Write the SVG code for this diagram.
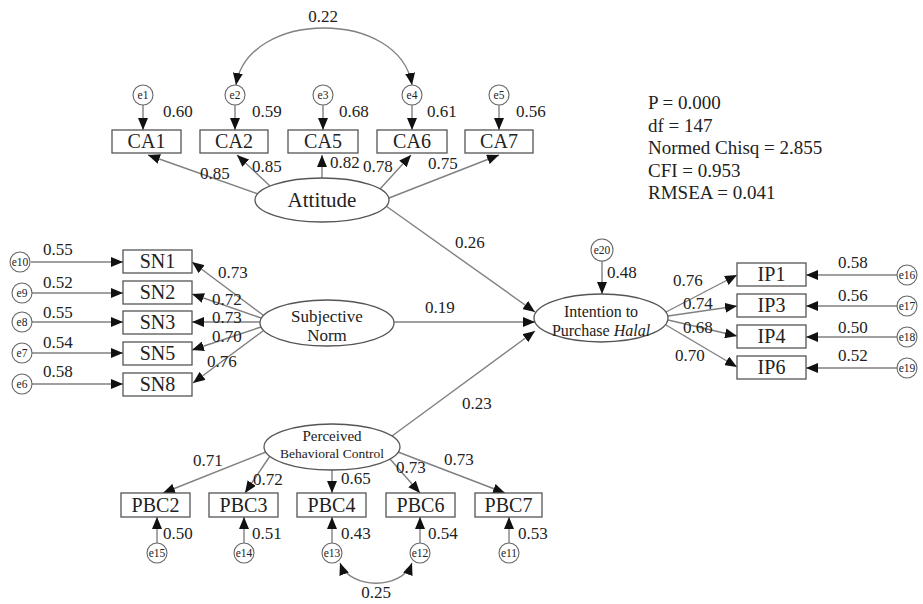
<svg xmlns="http://www.w3.org/2000/svg" width="923" height="604" viewBox="0 0 923 604">
<style>
text{font-family:"Liberation Serif","Times New Roman",serif;fill:#222}
.n{font-size:17px}
.bx{fill:#fff;stroke:#555;stroke-width:1.3}
.bt{font-size:20px;text-anchor:middle}
.ec{fill:#fff;stroke:#666;stroke-width:1.1}
.et{font-size:11.5px;text-anchor:middle}
.lv{fill:#fff;stroke:#555;stroke-width:1.3}
.c{fill:none;stroke:#808080;stroke-width:1.4;marker-end:url(#ah)}
.d{fill:none;stroke:#808080;stroke-width:1.4;marker-end:url(#ah);marker-start:url(#ah)}
.st{font-size:19px}
</style>
<defs>
<marker id="ah" viewBox="0 0 12 10" refX="12" refY="5" markerWidth="12" markerHeight="10" markerUnits="userSpaceOnUse" orient="auto-start-reverse">
<path d="M0,0 L12,5 L0,10 z" fill="#111"/>
</marker>
</defs>
<rect width="923" height="604" fill="#fff"/>

<g id="connectors">
<path class="d" d="M236,85 C248,9 400,9 412,85"/>
<path class="d" d="M340,563 C350,590 402,590 412,563"/>
<line class="c" x1="143" y1="105" x2="143" y2="130"/>
<line class="c" x1="235" y1="105" x2="235" y2="130"/>
<line class="c" x1="323" y1="105" x2="323" y2="130"/>
<line class="c" x1="412" y1="105" x2="412" y2="130"/>
<line class="c" x1="499" y1="105" x2="499" y2="130"/>
<line class="c" x1="258" y1="194" x2="148" y2="155"/>
<line class="c" x1="270" y1="186" x2="237" y2="155"/>
<line class="c" x1="322" y1="178" x2="322" y2="155"/>
<line class="c" x1="380" y1="189" x2="411" y2="155"/>
<line class="c" x1="389" y1="198" x2="499" y2="155"/>
<line class="c" x1="31" y1="262" x2="123" y2="262"/>
<line class="c" x1="32" y1="293" x2="123" y2="293"/>
<line class="c" x1="32" y1="322" x2="123" y2="322"/>
<line class="c" x1="32" y1="353" x2="123" y2="353"/>
<line class="c" x1="32" y1="384" x2="123" y2="384"/>
<line class="c" x1="263" y1="315" x2="192" y2="262"/>
<line class="c" x1="261" y1="318" x2="192" y2="294"/>
<line class="c" x1="260" y1="322" x2="192" y2="322"/>
<line class="c" x1="261" y1="327" x2="192" y2="350"/>
<line class="c" x1="263" y1="331" x2="193" y2="383"/>
<line class="c" x1="386" y1="206" x2="535" y2="312"/>
<line class="c" x1="394" y1="322" x2="535" y2="322"/>
<line class="c" x1="392" y1="436" x2="535" y2="331"/>
<line class="c" x1="602" y1="261" x2="602" y2="294"/>
<line class="c" x1="666" y1="312" x2="737" y2="275"/>
<line class="c" x1="668" y1="316" x2="737" y2="306"/>
<line class="c" x1="668" y1="320" x2="737" y2="336"/>
<line class="c" x1="666" y1="325" x2="737" y2="367"/>
<line class="c" x1="897" y1="275" x2="806" y2="275"/>
<line class="c" x1="897" y1="306" x2="806" y2="306"/>
<line class="c" x1="897" y1="337" x2="806" y2="337"/>
<line class="c" x1="897" y1="368" x2="806" y2="368"/>
<line class="c" x1="266" y1="452" x2="163" y2="493"/>
<line class="c" x1="270" y1="456" x2="245" y2="493"/>
<line class="c" x1="332" y1="470" x2="332" y2="493"/>
<line class="c" x1="390" y1="459" x2="420" y2="493"/>
<line class="c" x1="398" y1="452" x2="505" y2="493"/>
<line class="c" x1="157" y1="543" x2="157" y2="517"/>
<line class="c" x1="244" y1="543" x2="244" y2="517"/>
<line class="c" x1="332" y1="543" x2="332" y2="517"/>
<line class="c" x1="420" y1="543" x2="420" y2="517"/>
<line class="c" x1="509" y1="543" x2="509" y2="517"/>
</g>

<g id="labels" class="n">
<text x="323" y="22" text-anchor="middle">0.22</text>
<text x="163" y="117">0.60</text>
<text x="252" y="117">0.59</text>
<text x="339" y="117">0.68</text>
<text x="427" y="117">0.61</text>
<text x="516" y="117">0.56</text>
<text x="200" y="179">0.85</text>
<text x="252" y="172">0.85</text>
<text x="330" y="168">0.82</text>
<text x="363" y="172">0.78</text>
<text x="428" y="169">0.75</text>
<text x="43" y="255">0.55</text>
<text x="43" y="288">0.52</text>
<text x="43" y="318">0.55</text>
<text x="43" y="348">0.54</text>
<text x="43" y="377">0.58</text>
<text x="218" y="278">0.73</text>
<text x="212" y="305">0.72</text>
<text x="212" y="323">0.73</text>
<text x="212" y="342">0.70</text>
<text x="207" y="367">0.76</text>
<text x="455" y="248">0.26</text>
<text x="425" y="313">0.19</text>
<text x="462" y="409">0.23</text>
<text x="607" y="278">0.48</text>
<text x="673" y="286">0.76</text>
<text x="683" y="309">0.74</text>
<text x="683" y="333">0.68</text>
<text x="675" y="361">0.70</text>
<text x="838" y="268">0.58</text>
<text x="838" y="301">0.56</text>
<text x="838" y="333">0.50</text>
<text x="838" y="361">0.52</text>
<text x="193" y="466">0.71</text>
<text x="253" y="485">0.72</text>
<text x="341" y="484">0.65</text>
<text x="396" y="473">0.73</text>
<text x="444" y="465">0.73</text>
<text x="163" y="539">0.50</text>
<text x="252" y="539">0.51</text>
<text x="341" y="539">0.43</text>
<text x="428" y="539">0.54</text>
<text x="518" y="539">0.53</text>
<text x="376" y="598" text-anchor="middle">0.25</text>
</g>

<g id="Attitude"><ellipse class="lv" cx="322" cy="200" rx="67" ry="22"/><text x="322" y="207" font-size="21" text-anchor="middle">Attitude</text></g>
<g id="SubjectiveNorm"><ellipse class="lv" cx="327" cy="323" rx="67" ry="23"/><text x="327" y="322" font-size="17" text-anchor="middle">Subjective</text><text x="327" y="341" font-size="17" text-anchor="middle">Norm</text></g>
<g id="Intention"><ellipse class="lv" cx="601" cy="318" rx="67" ry="24"/><text x="601" y="317" font-size="16" text-anchor="middle">Intention to</text><text x="601" y="336" font-size="16" text-anchor="middle">Purchase <tspan font-style="italic">Halal</tspan></text></g>
<g id="PBC"><ellipse class="lv" cx="332" cy="447" rx="68" ry="23"/><text x="332" y="441" font-size="15" text-anchor="middle">Perceived</text><text x="332" y="458" font-size="13.5" text-anchor="middle">Behavioral Control</text></g>

<g id="CA1"><rect class="bx" x="112" y="130" width="69" height="23"/><text class="bt" x="146.5" y="148">CA1</text></g>
<g id="CA2"><rect class="bx" x="200" y="130" width="68" height="23"/><text class="bt" x="234" y="148">CA2</text></g>
<g id="CA5"><rect class="bx" x="288" y="130" width="70" height="23"/><text class="bt" x="323" y="148">CA5</text></g>
<g id="CA6"><rect class="bx" x="377" y="130" width="70" height="23"/><text class="bt" x="412" y="148">CA6</text></g>
<g id="CA7"><rect class="bx" x="465" y="130" width="68" height="23"/><text class="bt" x="499" y="148">CA7</text></g>

<g id="SN1"><rect class="bx" x="123" y="250" width="69" height="23"/><text class="bt" x="157.5" y="268">SN1</text></g>
<g id="SN2"><rect class="bx" x="123" y="281" width="69" height="23"/><text class="bt" x="157.5" y="299">SN2</text></g>
<g id="SN3"><rect class="bx" x="123" y="311" width="69" height="23"/><text class="bt" x="157.5" y="329">SN3</text></g>
<g id="SN5"><rect class="bx" x="123" y="342" width="69" height="23"/><text class="bt" x="157.5" y="360">SN5</text></g>
<g id="SN8"><rect class="bx" x="123" y="373" width="69" height="23"/><text class="bt" x="157.5" y="391">SN8</text></g>

<g id="IP1"><rect class="bx" x="737" y="263" width="69" height="23"/><text class="bt" x="771.5" y="281">IP1</text></g>
<g id="IP3"><rect class="bx" x="737" y="294" width="69" height="23"/><text class="bt" x="771.5" y="312">IP3</text></g>
<g id="IP4"><rect class="bx" x="737" y="325" width="69" height="23"/><text class="bt" x="771.5" y="343">IP4</text></g>
<g id="IP6"><rect class="bx" x="737" y="356" width="69" height="23"/><text class="bt" x="771.5" y="374">IP6</text></g>

<g id="PBC2"><rect class="bx" x="121" y="493" width="69" height="24"/><text class="bt" x="155.5" y="512">PBC2</text></g>
<g id="PBC3"><rect class="bx" x="209" y="493" width="69" height="24"/><text class="bt" x="243.5" y="512">PBC3</text></g>
<g id="PBC4"><rect class="bx" x="297" y="493" width="69" height="24"/><text class="bt" x="331.5" y="512">PBC4</text></g>
<g id="PBC6"><rect class="bx" x="386" y="493" width="69" height="24"/><text class="bt" x="420.5" y="512">PBC6</text></g>
<g id="PBC7"><rect class="bx" x="475" y="493" width="67" height="24"/><text class="bt" x="508.5" y="512">PBC7</text></g>

<g id="e1"><circle class="ec" cx="143" cy="95" r="10"/><text class="et" x="143" y="99">e1</text></g>
<g id="e2"><circle class="ec" cx="235" cy="95" r="10"/><text class="et" x="235" y="99">e2</text></g>
<g id="e3"><circle class="ec" cx="323" cy="95" r="10"/><text class="et" x="323" y="99">e3</text></g>
<g id="e4"><circle class="ec" cx="412" cy="95" r="10"/><text class="et" x="412" y="99">e4</text></g>
<g id="e5"><circle class="ec" cx="499" cy="95" r="10"/><text class="et" x="499" y="99">e5</text></g>
<g id="e10"><circle class="ec" cx="20" cy="262" r="10"/><text class="et" x="20" y="266">e10</text></g>
<g id="e9"><circle class="ec" cx="22" cy="293" r="10"/><text class="et" x="22" y="297">e9</text></g>
<g id="e8"><circle class="ec" cx="22" cy="322" r="10"/><text class="et" x="22" y="326">e8</text></g>
<g id="e7"><circle class="ec" cx="22" cy="353" r="10"/><text class="et" x="22" y="357">e7</text></g>
<g id="e6"><circle class="ec" cx="22" cy="384" r="10"/><text class="et" x="22" y="388">e6</text></g>
<g id="e20"><circle class="ec" cx="602" cy="250" r="11"/><text class="et" x="602" y="254">e20</text></g>
<g id="e16"><circle class="ec" cx="907" cy="275" r="10"/><text class="et" x="907" y="279">e16</text></g>
<g id="e17"><circle class="ec" cx="907" cy="306" r="10"/><text class="et" x="907" y="310">e17</text></g>
<g id="e18"><circle class="ec" cx="907" cy="337" r="10"/><text class="et" x="907" y="341">e18</text></g>
<g id="e19"><circle class="ec" cx="907" cy="368" r="10"/><text class="et" x="907" y="372">e19</text></g>
<g id="e15"><circle class="ec" cx="157" cy="553" r="10"/><text class="et" x="157" y="557">e15</text></g>
<g id="e14"><circle class="ec" cx="244" cy="553" r="10"/><text class="et" x="244" y="557">e14</text></g>
<g id="e13"><circle class="ec" cx="332" cy="553" r="10"/><text class="et" x="332" y="557">e13</text></g>
<g id="e12"><circle class="ec" cx="420" cy="553" r="10"/><text class="et" x="420" y="557">e12</text></g>
<g id="e11"><circle class="ec" cx="509" cy="553" r="10"/><text class="et" x="509" y="557">e11</text></g>

<g id="fit" class="st">
<text x="648" y="109">P = 0.000</text>
<text x="648" y="132">df = 147</text>
<text x="648" y="154">Normed Chisq = 2.855</text>
<text x="648" y="177">CFI = 0.953</text>
<text x="648" y="199">RMSEA = 0.041</text>
</g>
</svg>
